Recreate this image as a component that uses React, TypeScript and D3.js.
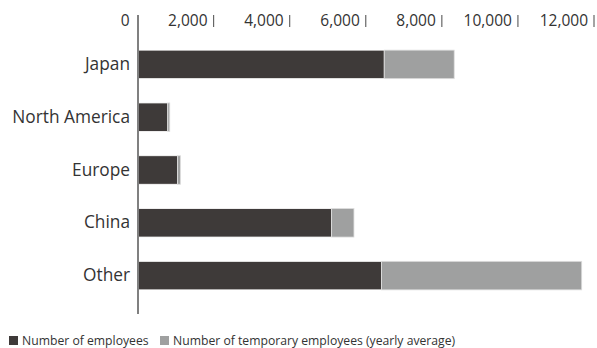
import React from "react";
import * as d3 from "d3";

// Employees by region (headcount)
const regions = ["Japan", "North America", "Europe", "China", "Other"];
const employees = [6486, 796, 1050, 5103, 6416];
const temporaryEmployees = [1839, 52, 79, 587, 5261];
const tickValues = [0, 2000, 4000, 6000, 8000, 10000, 12000];

const seriesNames = [
  "Number of employees",
  "Number of temporary employees (yearly average)",
];
const seriesColors = ["#3e3a39", "#9fa0a0"];

const W = 597;
const H = 348;
const FONT = "'Open Sans', 'Noto Sans', sans-serif";

export default function App() {
  const x = d3.scaleLinear().domain([0, 12000]).range([137.5, 594]);
  const y = d3
    .scaleBand<string>()
    .domain(regions)
    .range([38, 302])
    .paddingInner(0.46)
    .paddingOuter(0.23);

  const rows = regions.map((r, i) => ({
    region: r,
    values: [employees[i], temporaryEmployees[i]],
  }));
  const stacked = rows.map((row) => {
    let acc = 0;
    return row.values.map((v) => {
      const seg = [acc, acc + v];
      acc += v;
      return seg;
    });
  });

  return (
    <svg
      width={W}
      height={H}
      style={{ position: "absolute", left: 0, top: 0, background: "#fff" }}
      fontFamily={FONT}
    >
      {/* top axis labels and tick marks */}
      {tickValues.map((t) => (
        <g key={t}>
          <text
            x={x(t) - (t === 0 ? 8 : 6)}
            y={26}
            textAnchor="end"
            fontSize={15.5}
            fill="#333"
          >
            {d3.format(",")(t)}
          </text>
          {t !== 0 && (
            <line
              x1={x(t)}
              x2={x(t)}
              y1={15}
              y2={27}
              stroke="#666"
              strokeWidth={1.2}
            />
          )}
        </g>
      ))}

      {/* stacked bars */}
      {rows.map((row, i) =>
        stacked[i].map((seg, j) => (
          <rect
            key={row.region + j}
            x={x(seg[0])}
            y={y(row.region)!}
            width={x(seg[1]) - x(seg[0])}
            height={y.bandwidth()}
            fill={seriesColors[j]}
            stroke={j === 0 ? "#fff" : "#ddd"}
            strokeWidth={0.8}
          />
        ))
      )}

      {/* category labels */}
      {regions.map((r) => (
        <text
          key={r}
          x={130}
          y={y(r)! + y.bandwidth() / 2 + 5.5}
          textAnchor="end"
          fontSize={17.3}
          fill="#333"
        >
          {r}
        </text>
      ))}

      {/* value axis line */}
      <line x1={138} x2={138} y1={15} y2={314} stroke="#808080" strokeWidth={2} />

      {/* legend */}
      <g fontSize={12.2} fill="#333">
        <rect x={9} y={336} width={9} height={9} fill={seriesColors[0]} />
        <text x={22} y={345}>
          {seriesNames[0]}
        </text>
        <rect x={160} y={336} width={9} height={9} fill={seriesColors[1]} />
        <text x={173} y={345}>
          {seriesNames[1]}
        </text>
      </g>
    </svg>
  );
}
